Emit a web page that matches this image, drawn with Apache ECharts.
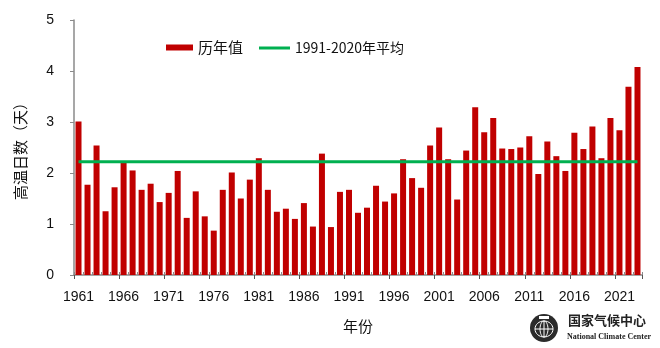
<!DOCTYPE html>
<html>
<head>
<meta charset="utf-8">
<script src="https://cdn.jsdelivr.net/npm/echarts@6/dist/echarts.min.js"></script>
<style>
  html, body { margin: 0; padding: 0; background: #fff; }
  #chart { width: 660px; height: 348px; }
</style>
</head>
<body>
<div id="chart"></div>
<script>
// Annual number of high-temperature days, 1961-2023
const years = [];
for (let y = 1961; y <= 2023; y++) years.push(String(y));

const annualDays = [
  3.01, 1.77, 2.54, 1.25, 1.72, 2.21, 2.05, 1.67, 1.79, 1.43,
  1.61, 2.04, 1.12, 1.64, 1.15, 0.87, 1.67, 2.01, 1.50, 1.87,
  2.29, 1.67, 1.24, 1.30, 1.10, 1.41, 0.95, 2.38, 0.94, 1.63,
  1.67, 1.22, 1.32, 1.75, 1.44, 1.60, 2.27, 1.90, 1.71, 2.54,
  2.89, 2.27, 1.48, 2.44, 3.29, 2.80, 3.08, 2.48, 2.47, 2.50,
  2.72, 1.98, 2.62, 2.33, 2.04, 2.79, 2.47, 2.91, 2.29, 3.08,
  2.84, 3.69, 4.08
];

// 1991-2020 climatological mean
const normalValue = 2.22;
const normalLine = years.map(() => normalValue);

const barName = '历年值';
const lineName = '1991-2020年平均';

const latin = '"Liberation Sans", Arial, "Noto Sans CJK SC", sans-serif';
const cjk = '"Noto Sans CJK SC", "Liberation Sans", sans-serif';

const chart = echarts.init(document.getElementById('chart'), null, { renderer: 'canvas' });

chart.setOption({
  backgroundColor: '#ffffff',
  animation: false,
  grid: { left: 74, right: 18, top: 20, bottom: 73, containLabel: false },
  legend: [
    {
      data: [{ name: barName, icon: 'rect' }],
      left: 166, top: 40, padding: 0,
      itemWidth: 27, itemHeight: 6,
      textStyle: { fontFamily: cjk, fontSize: 15, color: '#111' }
    },
    {
      data: [{ name: lineName, icon: 'rect' }],
      left: 259, top: 41, padding: 0,
      itemWidth: 31, itemHeight: 3,
      textStyle: { fontFamily: cjk, fontSize: 14, color: '#111' }
    }
  ],
  xAxis: [
    {
      type: 'category',
      data: years,
      position: 'bottom',
      boundaryGap: true,
      name: '年份',
      nameLocation: 'middle',
      nameGap: 44,
      nameTextStyle: { fontFamily: cjk, fontSize: 15, color: '#111' },
      axisLine: { lineStyle: { color: '#8a8a8a', width: 1.5 } },
      axisTick: { show: true, interval: 0, inside: true, length: 3, lineStyle: { color: '#8a8a8a' } },
      axisLabel: { interval: 4, margin: 15, fontFamily: latin, fontSize: 14, color: '#111' },
      splitLine: { show: false }
    },
    {
      type: 'category',
      data: years,
      position: 'bottom',
      boundaryGap: true,
      axisLine: { show: false },
      axisTick: { show: true, interval: 4, length: 4, lineStyle: { color: '#555' } },
      axisLabel: { show: false },
      splitLine: { show: false }
    }
  ],
  yAxis: {
    type: 'value',
    min: 0, max: 5, interval: 1,
    name: '高温日数（天）',
    nameLocation: 'middle',
    nameGap: 46,
    nameRotate: 90,
    nameTextStyle: { fontFamily: cjk, fontSize: 15, color: '#111' },
    axisLine: { show: true, lineStyle: { color: '#8a8a8a', width: 1.5 } },
    axisTick: { show: true, length: 4, lineStyle: { color: '#8a8a8a' } },
    axisLabel: { margin: 20, fontFamily: latin, fontSize: 14, color: '#111' },
    splitLine: { show: false }
  },
  series: [
    {
      name: barName,
      type: 'bar',
      data: annualDays,
      barWidth: 6,
      itemStyle: { color: '#c00000' },
      z: 2
    },
    {
      name: lineName,
      type: 'line',
      data: normalLine,
      symbol: 'none',
      lineStyle: { color: '#00b050', width: 3 },
      itemStyle: { color: '#00b050' },
      z: 3
    }
  ],
  graphic: [
    // emblem of the centre
    {
      type: 'group', left: 530, top: 314,
      children: [
        { type: 'circle', shape: { cx: 15, cy: 14, r: 14 }, style: { fill: '#2b2b2b' } },
        { type: 'ellipse', shape: { cx: 15, cy: 15, rx: 9, ry: 8 }, style: { fill: 'none', stroke: '#fff', lineWidth: 1 } },
        { type: 'ellipse', shape: { cx: 15, cy: 15, rx: 4, ry: 8 }, style: { fill: 'none', stroke: '#fff', lineWidth: 1 } },
        { type: 'line', shape: { x1: 6, y1: 15, x2: 24, y2: 15 }, style: { stroke: '#fff', lineWidth: 1 } },
        { type: 'line', shape: { x1: 15, y1: 7, x2: 15, y2: 23 }, style: { stroke: '#fff', lineWidth: 1 } },
        { type: 'rect', shape: { x: 10, y: 2, width: 10, height: 3 }, style: { fill: '#fff' } }
      ]
    },
    {
      type: 'text', left: 568, top: 314,
      style: { text: '国家气候中心', font: 'bold 13px "Noto Sans CJK SC", sans-serif', fill: '#222' }
    },
    {
      type: 'text', left: 567, top: 333,
      style: { text: 'National Climate Center', font: 'bold 8px "Liberation Serif", serif', fill: '#222' }
    }
  ]
});
</script>
</body>
</html>
